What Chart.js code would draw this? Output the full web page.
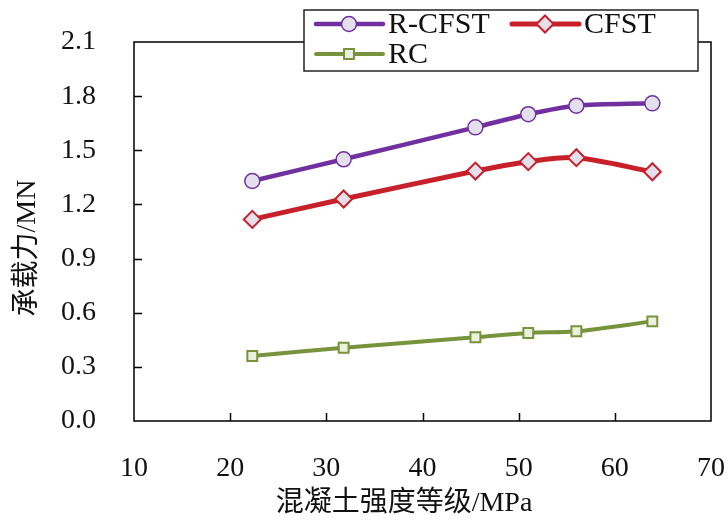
<!DOCTYPE html>
<html>
<head>
<meta charset="utf-8">
<script src="https://cdn.jsdelivr.net/npm/chart.js@4"></script>
<style>
  html, body { margin: 0; padding: 0; background: #fff; }
  #wrap { width: 728px; height: 521px; }
</style>
</head>
<body>
<div id="wrap"><canvas id="c" width="728" height="521"></canvas></div>
<script>
// 混凝土强度 (MPa) 与承载力 (MN)
const strength = [22.3, 31.8, 45.5, 51.0, 56.0, 63.9];
const rcfst = [1.33, 1.45, 1.627, 1.70, 1.747, 1.76];
const cfst = [1.117, 1.23, 1.385, 1.437, 1.459, 1.381];
const rc = [0.36, 0.406, 0.464, 0.488, 0.497, 0.552];
const yTicks = [0, 0.3, 0.6, 0.9, 1.2, 1.5, 1.8, 2.1];
const xTicks = [10, 20, 30, 40, 50, 60, 70];

const serif = "'Liberation Serif', 'Noto Sans CJK SC', serif";
const FS = 28;

const series = [
    { label: 'R-CFST', data: rcfst, color: '#7030a0', fill: '#e4dfec', point: 'circle', r: 7.5, bw: 1.5, lw: 4.5 },
    { label: 'CFST', data: cfst, color: '#c8202a', fill: '#e4dfec', point: 'rectRot', r: 8.5, bw: 2, lw: 5 },
    { label: 'RC', data: rc, color: '#77933c', fill: '#ebf1de', point: 'rect', r: 7, bw: 2, lw: 4 }
];

function drawMarker(ctx, s, x, y) {
    ctx.save();
    ctx.fillStyle = s.fill;
    ctx.strokeStyle = s.color;
    ctx.lineWidth = s.bw;
    ctx.beginPath();
    if (s.point === 'circle') {
        ctx.arc(x, y, s.r, 0, Math.PI * 2);
    } else if (s.point === 'rectRot') {
        ctx.moveTo(x - s.r, y); ctx.lineTo(x, y - s.r); ctx.lineTo(x + s.r, y); ctx.lineTo(x, y + s.r);
        ctx.closePath();
    } else {
        const h = s.r * Math.SQRT1_2;
        ctx.rect(x - h, y - h, 2 * h, 2 * h);
    }
    ctx.fill();
    ctx.stroke();
    ctx.restore();
}

// 边框、内向刻度、坐标轴标题、图例
const decor = {
    id: 'decor',
    afterDraw(chart) {
        const ctx = chart.ctx;
        const a = chart.chartArea;
        const xs = chart.scales.x, ys = chart.scales.y;
        ctx.save();
        ctx.strokeStyle = '#000';
        ctx.lineWidth = 1.5;
        ctx.strokeRect(a.left, a.top, a.right - a.left, a.bottom - a.top);
        ctx.beginPath();
        xTicks.slice(1, -1).forEach(v => {
            const px = Math.round(xs.getPixelForValue(v)) + 0.5;
            ctx.moveTo(px, a.bottom); ctx.lineTo(px, a.bottom - 8);
        });
        yTicks.slice(1, -1).forEach(v => {
            const py = Math.round(ys.getPixelForValue(v)) + 0.5;
            ctx.moveTo(a.left, py); ctx.lineTo(a.left + 8, py);
        });
        ctx.stroke();

        ctx.fillStyle = '#111';
        ctx.font = FS + 'px ' + serif;
        ctx.textAlign = 'center';
        ctx.textBaseline = 'middle';
        ctx.fillText('混凝土强度等级/MPa', 404, 504);
        ctx.save();
        ctx.translate(28, 248);
        ctx.rotate(-Math.PI / 2);
        ctx.fillText('承载力/MN', 0, 0);
        ctx.restore();

        // legend
        ctx.fillStyle = '#fff';
        ctx.fillRect(304, 10, 394, 61);
        ctx.strokeStyle = '#222';
        ctx.lineWidth = 1.5;
        ctx.strokeRect(304, 10, 394, 61);
        ctx.font = '30px ' + serif;
        const spots = [[316, 24], [512, 24], [316, 54]];
        series.forEach((s, i) => {
            const [lx, ly] = spots[i];
            ctx.strokeStyle = s.color;
            ctx.lineWidth = s.lw;
            ctx.lineCap = 'round';
            ctx.beginPath();
            ctx.moveTo(lx, ly); ctx.lineTo(lx + 67, ly);
            ctx.stroke();
            drawMarker(ctx, s, lx + 33, ly);
            ctx.fillStyle = '#111';
            ctx.textAlign = 'left';
            ctx.fillText(s.label, lx + 72, ly + 1);
        });
        ctx.restore();
    }
};

function noPad(s) {
    s.paddingLeft = 0; s.paddingRight = 0; s.paddingTop = 0; s.paddingBottom = 0;
}

new Chart(document.getElementById('c'), {
    type: 'line',
    data: {
        datasets: series.map(s => ({
            label: s.label,
            data: strength.map((x, i) => ({ x: x, y: s.data[i] })),
            borderColor: s.color,
            borderWidth: s.lw,
            backgroundColor: s.fill,
            pointStyle: s.point,
            pointRadius: s.r,
            pointBackgroundColor: s.fill,
            pointBorderColor: s.color,
            pointBorderWidth: s.bw,
            tension: 0.3,
            fill: false
        }))
    },
    options: {
        responsive: false,
        animation: false,
        devicePixelRatio: 1,
        layout: { padding: { left: 0, top: 42, right: 17, bottom: 0 } },
        plugins: { legend: { display: false }, tooltip: { enabled: false } },
        scales: {
            x: {
                type: 'linear', min: 10, max: 70,
                afterFit: s => { s.height = 100; noPad(s); },
                afterBuildTicks: s => { s.ticks = xTicks.map(v => ({ value: v })); },
                grid: { display: false, drawTicks: false },
                border: { display: false },
                ticks: { padding: 31, color: '#111', font: { family: serif, size: FS } }
            },
            y: {
                min: 0, max: 2.1,
                afterFit: s => { s.width = 134; noPad(s); },
                afterBuildTicks: s => { s.ticks = yTicks.map(v => ({ value: v })); },
                grid: { display: false, drawTicks: false },
                border: { display: false },
                ticks: { padding: 38, color: '#111', font: { family: serif, size: FS }, callback: v => v.toFixed(1) }
            }
        }
    },
    plugins: [decor]
});
</script>
</body>
</html>
